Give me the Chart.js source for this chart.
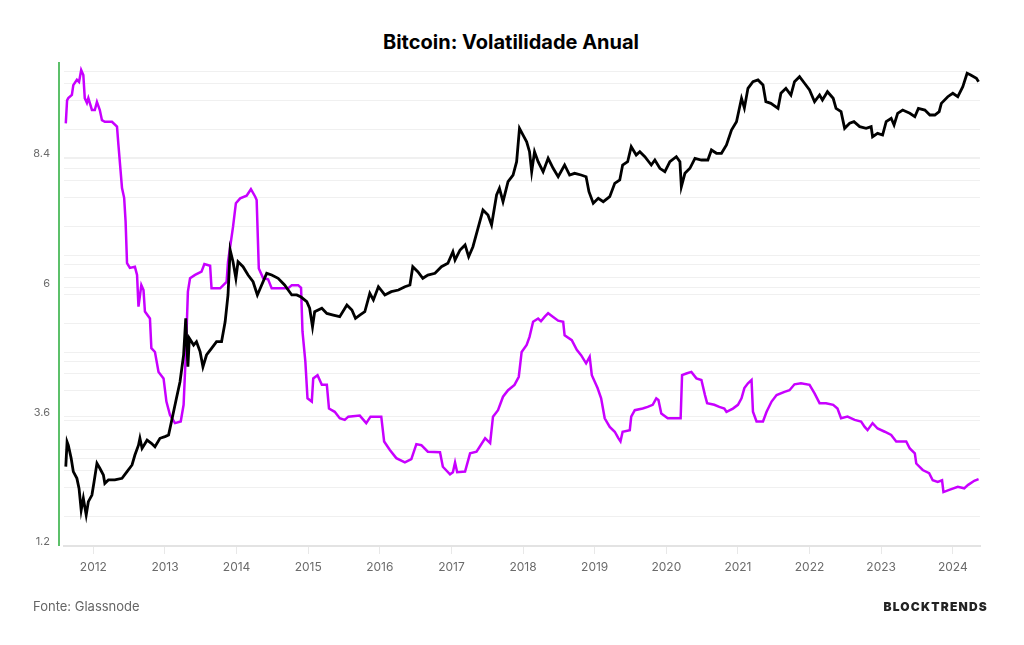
<!DOCTYPE html>
<html>
<head>
<meta charset="utf-8">
<script src="https://cdn.jsdelivr.net/npm/chart.js@4"></script>
<style>
  html, body { margin: 0; padding: 0; background: #fff; }
  body { width: 1024px; height: 645px; position: relative; overflow: hidden; font-family: Inter, "Noto Sans", sans-serif; }
  #chart { position: absolute; left: 0; top: 0; }
  .title { position: absolute; top: 30px; left: 0; width: 1022px; text-align: center; font-size: 20px; font-weight: 700; color: #000; }
  .source { position: absolute; left: 33px; top: 598px; font-size: 13px; color: #666; }
  .brand { position: absolute; right: 36px; top: 599px; font-size: 12px; font-weight: 900; letter-spacing: 1.2px; color: #222; }
</style>
</head>
<body>
<div class="title">Bitcoin: Volatilidade Anual</div>
<canvas id="chart" width="1024" height="645"></canvas>
<div class="source">Fonte: Glassnode</div>
<div class="brand">BLOCKTRENDS</div>
<script>
"use strict";

// Volatility (left axis)
const volYears = [2011.615, 2011.633, 2011.65, 2011.70, 2011.72, 2011.77, 2011.80, 2011.83, 2011.86, 2011.88,
  2011.91, 2011.93, 2011.98, 2012.02, 2012.05, 2012.09, 2012.12, 2012.16, 2012.26, 2012.33,
  2012.35, 2012.40, 2012.43, 2012.45, 2012.47, 2012.51, 2012.58, 2012.61, 2012.63, 2012.67,
  2012.70, 2012.72, 2012.79, 2012.81, 2012.86, 2012.91, 2012.98, 2013.02, 2013.07, 2013.14,
  2013.22, 2013.26, 2013.29, 2013.32, 2013.35, 2013.42, 2013.51, 2013.55, 2013.63, 2013.65,
  2013.77, 2013.86, 2013.88, 2013.91, 2013.95, 2013.99, 2014.05, 2014.14, 2014.20, 2014.26,
  2014.28, 2014.31, 2014.37, 2014.44, 2014.49, 2014.72, 2014.77, 2014.86, 2014.90, 2014.92,
  2014.96, 2014.99, 2015.05, 2015.07, 2015.13, 2015.19, 2015.26, 2015.29, 2015.37, 2015.44,
  2015.51, 2015.56, 2015.72, 2015.81, 2015.87, 2016.02, 2016.06, 2016.14, 2016.23, 2016.35,
  2016.44, 2016.51, 2016.58, 2016.67, 2016.84, 2016.88, 2016.98, 2017.02, 2017.05, 2017.08,
  2017.19, 2017.26, 2017.35, 2017.47, 2017.54, 2017.58, 2017.65, 2017.72, 2017.79, 2017.88,
  2017.94, 2017.98, 2018.05, 2018.09, 2018.14, 2018.21, 2018.25, 2018.30, 2018.35, 2018.42,
  2018.49, 2018.56, 2018.58, 2018.68, 2018.75, 2018.81, 2018.88, 2018.93, 2018.96, 2019.04,
  2019.09, 2019.14, 2019.21, 2019.28, 2019.33, 2019.36, 2019.39, 2019.49, 2019.51, 2019.56,
  2019.67, 2019.74, 2019.81, 2019.86, 2019.89, 2019.93, 2020.02, 2020.20, 2020.22, 2020.28,
  2020.35, 2020.42, 2020.49, 2020.54, 2020.57, 2020.67, 2020.74, 2020.81, 2020.84, 2020.93,
  2021.00, 2021.05, 2021.09, 2021.14, 2021.19, 2021.21, 2021.26, 2021.35, 2021.40, 2021.47,
  2021.54, 2021.65, 2021.72, 2021.79, 2021.88, 2022.00, 2022.07, 2022.14, 2022.23, 2022.33,
  2022.39, 2022.44, 2022.53, 2022.63, 2022.72, 2022.77, 2022.81, 2022.88, 2022.95, 2023.05,
  2023.14, 2023.21, 2023.35, 2023.40, 2023.47, 2023.49, 2023.58, 2023.67, 2023.72, 2023.79,
  2023.85, 2023.87, 2023.95, 2024.07, 2024.16, 2024.21, 2024.30, 2024.36];
const volValues = [9.04, 9.47, 9.51, 9.57, 9.75, 9.85, 9.81, 10.03, 9.94, 9.51,
  9.42, 9.51, 9.29, 9.29, 9.44, 9.29, 9.10, 9.07, 9.07, 8.98,
  8.64, 7.84, 7.66, 7.22, 6.45, 6.36, 6.38, 6.23, 5.64, 6.04,
  5.95, 5.55, 5.42, 4.87, 4.80, 4.43, 4.31, 3.88, 3.63, 3.48,
  3.51, 3.82, 4.74, 5.92, 6.17, 6.23, 6.29, 6.43, 6.40, 5.98,
  5.98, 6.10, 6.47, 6.75, 7.12, 7.56, 7.65, 7.70, 7.82, 7.68,
  7.62, 6.35, 6.17, 6.15, 5.98, 5.98, 6.04, 6.04, 5.99, 5.18,
  4.62, 3.94, 3.88, 4.31, 4.37, 4.19, 4.19, 3.75, 3.69, 3.57,
  3.54, 3.60, 3.62, 3.48, 3.60, 3.60, 3.14, 2.98, 2.83, 2.75,
  2.81, 3.09, 3.07, 2.95, 2.94, 2.67, 2.53, 2.57, 2.75, 2.57,
  2.58, 2.92, 2.95, 3.20, 3.11, 3.60, 3.72, 3.97, 4.09, 4.19,
  4.34, 4.80, 4.93, 5.08, 5.36, 5.42, 5.37, 5.45, 5.52, 5.45,
  5.38, 5.36, 5.11, 5.02, 4.84, 4.74, 4.59, 4.71, 4.37, 4.13,
  3.94, 3.57, 3.41, 3.32, 3.20, 3.14, 3.32, 3.35, 3.60, 3.72,
  3.75, 3.78, 3.82, 3.94, 3.91, 3.66, 3.57, 3.57, 4.37, 4.40,
  4.43, 4.31, 4.28, 4.00, 3.85, 3.82, 3.78, 3.75, 3.69, 3.75,
  3.82, 3.94, 4.13, 4.22, 4.28, 3.69, 3.51, 3.51, 3.69, 3.88,
  4.00, 4.06, 4.09, 4.20, 4.22, 4.19, 4.03, 3.85, 3.85, 3.82,
  3.75, 3.57, 3.60, 3.54, 3.51, 3.41, 3.35, 3.48, 3.38, 3.32,
  3.26, 3.14, 3.14, 3.01, 2.92, 2.73, 2.61, 2.55, 2.42, 2.39,
  2.42, 2.20, 2.24, 2.30, 2.27, 2.33, 2.41, 2.44];

// Bitcoin price in USD (hidden log axis)
const priceYears = [2011.615, 2011.633, 2011.65, 2011.69, 2011.72, 2011.77, 2011.80, 2011.83, 2011.86, 2011.90,
  2011.93, 2011.98, 2012.01, 2012.05, 2012.09, 2012.14, 2012.16, 2012.21, 2012.30, 2012.40,
  2012.47, 2012.54, 2012.58, 2012.63, 2012.65, 2012.68, 2012.75, 2012.81, 2012.86, 2012.93,
  2013.00, 2013.05, 2013.09, 2013.16, 2013.21, 2013.26, 2013.29, 2013.32, 2013.34, 2013.40,
  2013.44, 2013.49, 2013.53, 2013.58, 2013.65, 2013.72, 2013.79, 2013.84, 2013.88, 2013.91,
  2013.95, 2013.99, 2014.02, 2014.09, 2014.16, 2014.23, 2014.29, 2014.35, 2014.42, 2014.49,
  2014.58, 2014.67, 2014.77, 2014.84, 2014.90, 2014.98, 2015.02, 2015.06, 2015.09, 2015.19,
  2015.26, 2015.35, 2015.44, 2015.54, 2015.61, 2015.66, 2015.72, 2015.79, 2015.86, 2015.91,
  2015.98, 2016.07, 2016.16, 2016.26, 2016.35, 2016.42, 2016.46, 2016.53, 2016.60, 2016.67,
  2016.77, 2016.86, 2016.95, 2017.02, 2017.05, 2017.12, 2017.19, 2017.24, 2017.30, 2017.37,
  2017.44, 2017.51, 2017.56, 2017.63, 2017.67, 2017.72, 2017.79, 2017.86, 2017.91, 2017.95,
  2018.00, 2018.05, 2018.09, 2018.12, 2018.16, 2018.21, 2018.28, 2018.35, 2018.42, 2018.49,
  2018.58, 2018.65, 2018.72, 2018.81, 2018.88, 2018.92, 2018.98, 2019.05, 2019.12, 2019.21,
  2019.28, 2019.35, 2019.39, 2019.46, 2019.51, 2019.58, 2019.63, 2019.70, 2019.79, 2019.84,
  2019.91, 2019.98, 2020.05, 2020.14, 2020.19, 2020.21, 2020.26, 2020.33, 2020.40, 2020.49,
  2020.58, 2020.63, 2020.70, 2020.77, 2020.84, 2020.91, 2020.98, 2021.05, 2021.09, 2021.14,
  2021.21, 2021.28, 2021.35, 2021.39, 2021.46, 2021.56, 2021.60, 2021.67, 2021.74, 2021.79,
  2021.86, 2021.93, 2022.00, 2022.07, 2022.14, 2022.18, 2022.25, 2022.33, 2022.37, 2022.44,
  2022.49, 2022.56, 2022.62, 2022.70, 2022.79, 2022.86, 2022.88, 2022.95, 2023.02, 2023.07,
  2023.14, 2023.18, 2023.23, 2023.30, 2023.40, 2023.47, 2023.52, 2023.61, 2023.68, 2023.75,
  2023.81, 2023.84, 2023.93, 2024.00, 2024.07, 2024.14, 2024.20, 2024.25, 2024.33, 2024.36];
const priceValues = [6.6, 11.9, 11.0, 8.05, 5.86, 5.0, 3.94, 2.35, 3.11, 2.09,
  2.87, 3.36, 4.62, 7.15, 6.35, 5.41, 4.44, 4.81, 4.81, 5.0,
  5.86, 6.87, 8.71, 11.0, 12.96, 10.2, 12.4, 11.5, 10.6, 12.96,
  13.5, 14.0, 19.2, 33.6, 49.8, 94, 225, 71, 140, 119,
  129, 102, 71, 94, 110, 129, 129, 207, 392, 1143,
  865, 583, 865, 768, 630, 537, 392, 497, 656, 630,
  583, 497, 392, 392, 373, 334, 286, 184, 263, 286,
  253, 243, 234, 309, 274, 225, 243, 263, 408, 348,
  477, 392, 424, 441, 477, 497, 768, 682, 583, 630,
  656, 768, 832, 1097, 901, 1143, 1288, 974, 1236, 1914,
  2958, 2627, 2070, 4227, 4955, 3605, 5800, 6800, 9330, 20650,
  17600, 15000, 11840, 7360, 11840, 9330, 7360, 10120, 7980, 6530,
  8630, 6800, 7080, 6800, 6530, 4570, 3470, 3910, 3605, 4060,
  5580, 6040, 8630, 9330, 13340, 10940, 11840, 10510, 8630, 9720,
  7980, 7360, 9330, 10510, 9330, 5150, 7080, 7980, 10120, 9720,
  9720, 12330, 11400, 11400, 13900, 19850, 24170, 42170, 33500, 53500,
  62600, 65200, 57800, 38900, 37400, 33200, 47500, 53500, 45600, 62600,
  70500, 60300, 51400, 38900, 45600, 40500, 49300, 42170, 33200, 30700,
  20650, 23300, 24170, 21470, 20650, 21470, 16900, 18340, 17600, 24170,
  26200, 22340, 29500, 31900, 29500, 27200, 33200, 31900, 28340, 28340,
  30700, 37400, 43800, 47500, 43800, 55600, 76400, 73400, 67900, 62600];

const yearTicks = [2012, 2013, 2014, 2015, 2016, 2017, 2018, 2019, 2020, 2021, 2022, 2023, 2024];
const volTicks = [1.2, 3.6, 6, 8.4];
const priceGrid = [2, 4, 6, 8, 10, 20, 40, 60, 80, 100, 200, 400, 600, 800, 1000,
  2000, 4000, 6000, 8000, 10000, 20000, 40000, 60000, 80000];

const toPoints = (xs, ys) => xs.map((x, i) => ({ x: x, y: ys[i] }));

// green rule left of the plot
const leftRule = {
    id: 'leftRule',
    afterDatasetsDraw(chart) {
        const { ctx, chartArea } = chart;
        ctx.save();
        ctx.strokeStyle = '#5cc06a';
        ctx.lineWidth = 2;
        ctx.beginPath();
        ctx.moveTo(chartArea.left - 5, chartArea.top);
        ctx.lineTo(chartArea.left - 5, chartArea.bottom);
        ctx.stroke();
        ctx.restore();
    }
};

const ctx = document.getElementById('chart').getContext('2d');
new Chart(ctx, {
    type: 'line',
    data: {
        datasets: [{
            label: 'Preço',
            data: toPoints(priceYears, priceValues),
            yAxisID: 'y2',
            borderColor: '#000000',
            borderWidth: 2.8,
            pointRadius: 0,
            tension: 0,
            order: 0
        }, {
            label: 'Volatilidade',
            data: toPoints(volYears, volValues),
            yAxisID: 'y',
            borderColor: '#c800ff',
            borderWidth: 2.5,
            pointRadius: 0,
            tension: 0,
            order: 1
        }]
    },
    options: {
        responsive: false,
        animation: false,
        layout: { padding: { top: 62, right: 44, bottom: 0, left: 0 } },
        plugins: {
            legend: { display: false },
            tooltip: { enabled: false }
        },
        scales: {
            x: {
                type: 'linear',
                min: 2011.59,
                max: 2024.38,
                afterBuildTicks: (scale) => { scale.ticks = yearTicks.map(v => ({ value: v })); },
                afterFit: (scale) => { scale.height = 99; },
                grid: { drawOnChartArea: false, drawTicks: true, tickLength: 8, color: '#e8e8e8' },
                border: { color: '#e3e3e3', width: 2 },
                ticks: {
                    autoSkip: false,
                    maxRotation: 0,
                    padding: 6,
                    color: '#6b6b6b',
                    font: { family: 'Inter', size: 12 },
                    callback: (v) => String(v)
                }
            },
            y: {
                type: 'linear',
                position: 'left',
                min: 1.2,
                max: 10.18,
                afterBuildTicks: (scale) => { scale.ticks = volTicks.map(v => ({ value: v })); },
                afterFit: (scale) => { scale.width = 64; },
                grid: { color: '#f0f0f0', drawTicks: false },
                border: { display: false },
                ticks: {
                    padding: 14,
                    labelOffset: -4,
                    color: '#6b6b6b',
                    font: { family: 'Inter', size: 11 },
                    callback: (v) => String(v)
                }
            },
            y2: {
                type: 'logarithmic',
                position: 'right',
                min: 1,
                max: 100000,
                afterBuildTicks: (scale) => { scale.ticks = priceGrid.map(v => ({ value: v })); },
                afterFit: (scale) => { scale.width = 0; },
                grid: { color: '#f0f0f0', drawTicks: false },
                border: { display: false },
                ticks: { display: false }
            }
        }
    },
    plugins: [leftRule]
});
</script>
</body>
</html>
